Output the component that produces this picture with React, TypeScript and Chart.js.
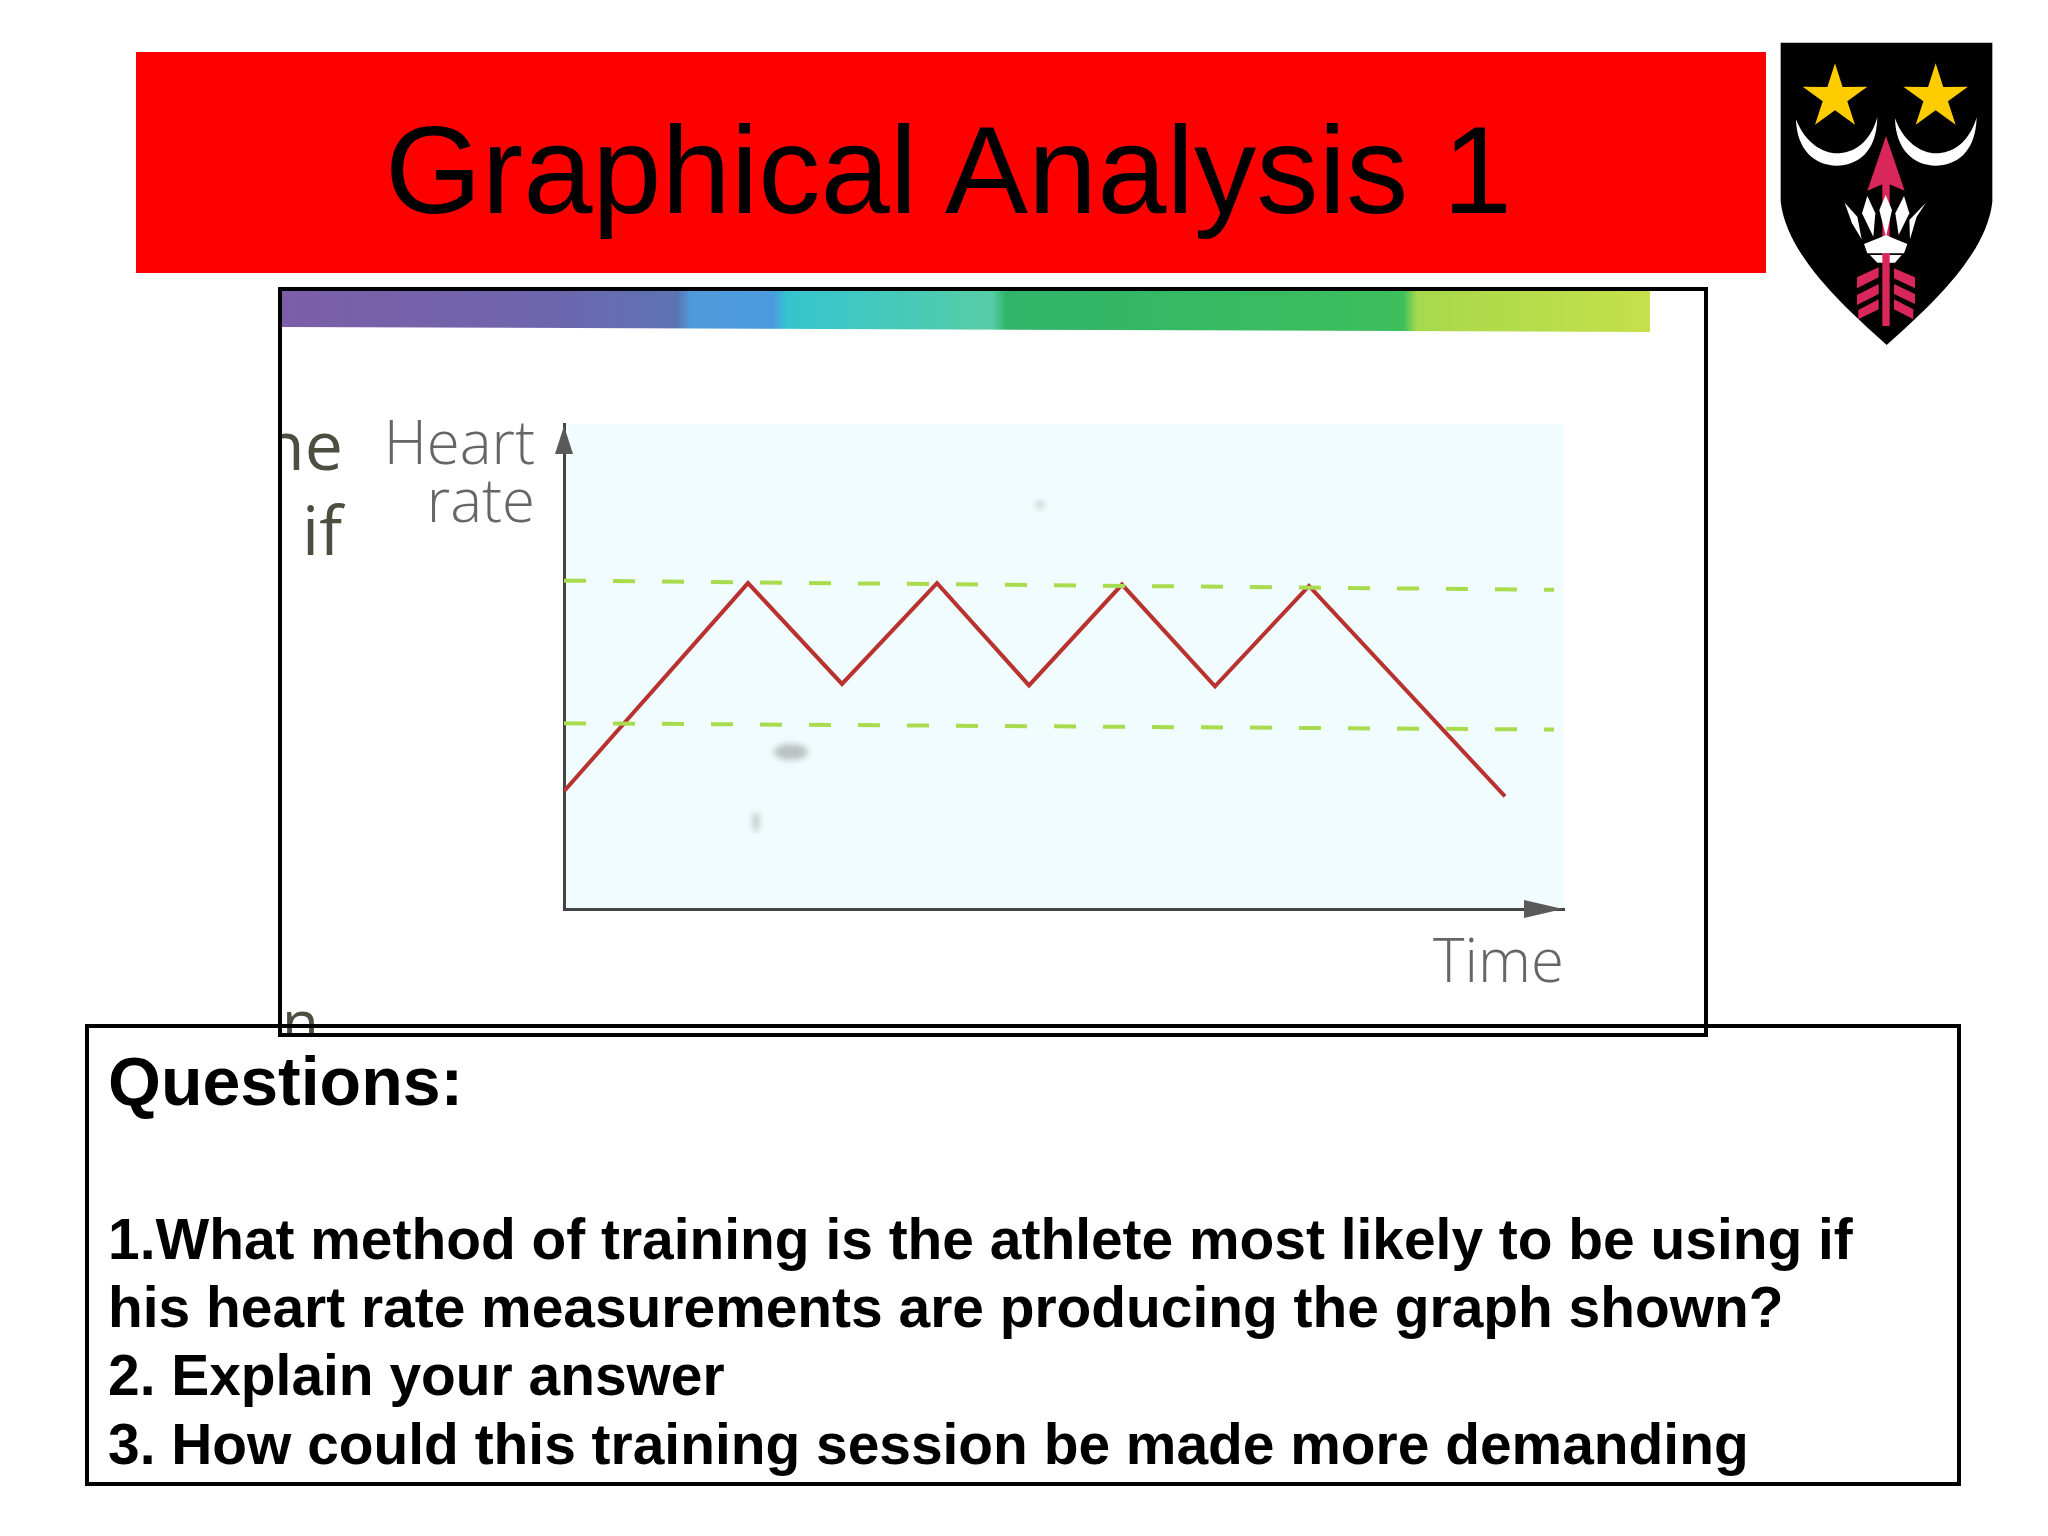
import React, { useEffect, useRef } from "react";
import { Chart, registerables } from "chart.js";

Chart.register(...registerables);

const heartTime = [0, 18.4, 27.8, 37.3, 46.5, 55.8, 65.1, 74.5, 94.1];
const heartRate = [24.3, 67.2, 46.4, 67.2, 46.1, 66.9, 45.9, 66.6, 23.2];
const zoneTime = [0, 99];
const upperZone = [67.7, 65.8];
const lowerZone = [38.3, 37.0];
const xAxisTitle = "Time";
const questionLines = [
  "1.What method of training is the athlete most likely to be using if",
  "his heart rate measurements are producing the graph shown?",
  "2. Explain your answer",
  "3. How could this training session be made more demanding",
];

const sans = "'Liberation Sans', Arial, sans-serif";
const abs = (l: number, t: number, w: number, h: number): React.CSSProperties => ({
  position: "absolute", left: l, top: t, width: w, height: h,
});

function star(cx: number, cy: number, R: number) {
  const pts: string[] = [];
  for (let i = 0; i < 10; i++) {
    const r = i % 2 === 0 ? R : R * 0.38;
    const a = -Math.PI / 2 + (i * Math.PI) / 5;
    pts.push(`${cx + r * Math.cos(a)},${cy + r * Math.sin(a)}`);
  }
  return pts.join(" ");
}

function Crest() {
  return (
    <svg viewBox="0 0 864 1020" style={abs(1760, 20, 288, 340)}>
      <path d="M62 68 H697 V545 C680 700 520 850 380 975 C240 850 80 700 62 545 Z" fill="#000" />
      <polygon points={star(225, 232, 102)} fill="#FFCC00" />
      <polygon points={star(527, 232, 102)} fill="#FFCC00" />
      <path d="M108 298 C135 370 190 400 230 400 C280 400 330 370 352 292 C350 400 290 437 230 437 C165 437 110 390 108 298 Z" fill="#fff" />
      <path d="M405 295 C432 370 487 400 527 400 C577 400 627 370 650 292 C647 400 587 437 527 437 C462 437 407 390 405 295 Z" fill="#fff" />
      <rect x="367" y="480" width="22" height="438" fill="#D9275C" />
      <polygon points="378,348 322,512 378,488 434,512" fill="#D9275C" />
      <g fill="#fff">
        <polygon points="377,525 396,570 378,650 358,570" />
        <polygon points="322,528 346,580 340,650 306,580" />
        <polygon points="432,528 448,580 416,645 406,580" />
        <polygon points="254,548 292,590 305,658 276,610" />
        <polygon points="498,548 470,590 450,658 448,600" />
        <path d="M312 672 L355 655 L378 645 L400 655 L442 672 L432 700 H322 Z" />
        <path d="M330 705 H425 L405 728 H352 Z" />
      </g>
      <rect x="367" y="700" width="22" height="30" fill="#D9275C" />
      <g fill="#D9275C">
        <polygon points="291,772 356,742 356,772 291,805" />
        <polygon points="291,825 356,792 356,822 291,855" />
        <polygon points="295,870 356,838 356,868 295,898" />
        <polygon points="402,745 465,772 465,805 402,775" />
        <polygon points="402,792 465,822 465,852 402,822" />
        <polygon points="402,838 460,868 460,898 402,868" />
      </g>
    </svg>
  );
}

const chartDecor = {
  id: "chartDecor",
  beforeDraw(chart: any) {
    const { ctx, chartArea: a } = chart;
    ctx.save();
    ctx.fillStyle = "#F0FCFD";
    ctx.fillRect(a.left, a.top, a.right - a.left, a.bottom - a.top);
    ctx.restore();
  },
  afterDraw(chart: any) {
    const { ctx, chartArea: a } = chart;
    ctx.save();
    ctx.fillStyle = "#5a5a5a";
    ctx.beginPath();
    ctx.moveTo(a.left, a.top + 2);
    ctx.lineTo(a.left - 9, a.top + 30);
    ctx.lineTo(a.left + 9, a.top + 30);
    ctx.closePath();
    ctx.fill();
    ctx.beginPath();
    ctx.moveTo(a.right - 1, a.bottom);
    ctx.lineTo(a.right - 40, a.bottom - 9);
    ctx.lineTo(a.right - 40, a.bottom + 9);
    ctx.closePath();
    ctx.fill();
    ctx.restore();
  },
};

export default function App() {
  const ref = useRef<HTMLCanvasElement>(null);
  useEffect(() => {
    document.body.style.margin = "0";
    document.body.style.background = "#fff";
    const toPts = (xs: number[], ys: number[]) => xs.map((x, i) => ({ x, y: ys[i] }));
    const chart = new Chart(ref.current!, {
      type: "line",
      data: {
        datasets: [
          { label: "Upper training zone", data: toPts(zoneTime, upperZone), borderColor: "#A9DB4E", borderWidth: 4, borderDash: [22, 27], pointRadius: 0 },
          { label: "Lower training zone", data: toPts(zoneTime, lowerZone), borderColor: "#A9DB4E", borderWidth: 4, borderDash: [22, 27], pointRadius: 0 },
          { label: "Heart rate", data: toPts(heartTime, heartRate), borderColor: "#B8322F", borderWidth: 4, pointRadius: 0, tension: 0 },
        ],
      },
      options: {
        animation: false,
        responsive: false,
        layout: { padding: { left: 284, right: 142, top: 134, bottom: 33 } },
        plugins: { legend: { display: false }, tooltip: { enabled: false } },
        scales: {
          x: {
            type: "linear", min: 0, max: 100,
            grid: { display: false, drawTicks: false },
            ticks: { display: false },
            border: { display: true, color: "#444", width: 3 },
            title: {
              display: true, text: xAxisTitle, align: "end", color: "#666",
              font: { family: "'Open Sans', sans-serif", size: 60, weight: "300" },
              padding: { top: 20, bottom: 0 },
            },
          },
          y: {
            type: "linear", min: 0, max: 100,
            grid: { display: false, drawTicks: false },
            ticks: { display: false },
            border: { display: true, color: "#444", width: 3 },
          },
        },
      },
      plugins: [chartDecor],
    } as any);
    return () => chart.destroy();
  }, []);

  const smudge = (l: number, t: number, w: number, h: number, o: number): React.CSSProperties => ({
    ...abs(l, t, w, h), background: "#555", opacity: o, filter: "blur(3px)", borderRadius: "50%",
  });
  const frag: React.CSSProperties = { position: "absolute", fontFamily: "'Open Sans', sans-serif", fontSize: 68, lineHeight: "70px", color: "#4d4d40" };
  const q: React.CSSProperties = { fontFamily: sans, fontWeight: 700, color: "#000", whiteSpace: "nowrap", position: "absolute", left: 108, lineHeight: "68px", fontSize: 56.9 };

  return (
    <div style={{ position: "relative", width: 2048, height: 1536, background: "#fff", overflow: "hidden" }}>
      <div style={{ ...abs(136, 52, 1630, 221), background: "#FF0000" }} />
      <div style={{ ...abs(137, 59, 1629, 221), textAlign: "center", fontFamily: sans, fontSize: 124.4, lineHeight: "221px", color: "#000", transform: "translateX(-3px)" }}>
        Graphical Analysis 1
      </div>
      <Crest />

      <div style={{ ...abs(280, 290, 1426, 744), overflow: "hidden", background: "#fff" }}>
        <div style={{
          ...abs(0, 0, 1370, 42),
          clipPath: "polygon(0 0, 100% 0, 100% 100%, 0 88%)",
          background: "linear-gradient(90deg,#7B5EA7 0%,#6E66AD 20%,#5C74B4 29%,#4F9ADB 30%,#4A9BDD 36%,#35C5CF 37%,#56CDA6 52%,#2FB46A 53%,#3DBF5C 82%,#A6D94C 83%,#C6E04A 100%)",
        }} />
        <canvas ref={ref} width={1426} height={744} style={{ position: "absolute", left: 0, top: 0, display: "block" }} />
        <div style={{ ...frag, left: -17, top: 119 }}>ne</div>
        <div style={{ ...frag, left: 22, top: 204 }}>if</div>
        <div style={{ ...frag, left: 2, top: 696, fontSize: 60 }}>n</div>
        <div style={{ position: "absolute", right: 1426 - 255, top: 122, fontFamily: "'Open Sans', sans-serif", fontWeight: 300, fontSize: 60, lineHeight: "58px", color: "#666", textAlign: "right" }}>
          Heart<br />rate
        </div>
        <div style={smudge(494, 454, 34, 16, 0.35)} />
        <div style={smudge(473, 522, 6, 20, 0.35)} />
        <div style={smudge(755, 211, 10, 8, 0.25)} />
      </div>
      <div style={{ ...abs(278, 287, 1430, 750), boxSizing: "border-box", border: "4px solid #000", pointerEvents: "none" }} />

      <div style={{ ...abs(85, 1024, 1876, 462), boxSizing: "border-box", border: "4px solid #000" }} />
      <div style={{ ...q, top: 1047, fontSize: 68 }}>Questions:</div>
      {questionLines.map((t, i) => (
        <div key={i} style={{ ...q, top: 1205 + i * 68.2 }}>{t}</div>
      ))}
    </div>
  );
}
